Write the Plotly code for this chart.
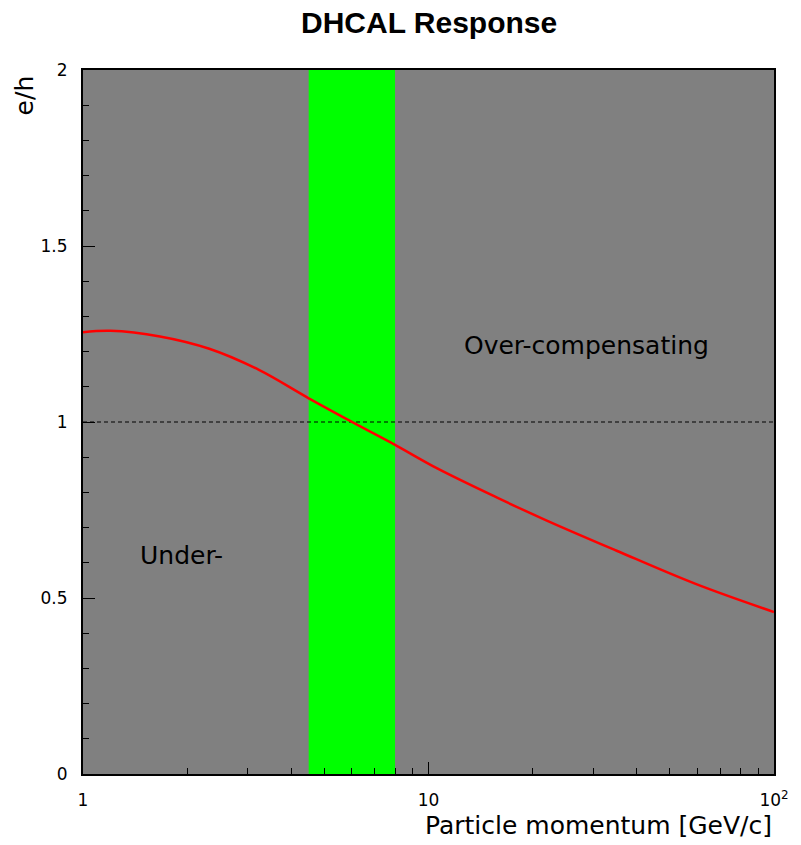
import plotly.graph_objects as go

# Data
momentum = [1.0, 1.2, 1.67, 2.32, 3.23, 4.49, 6.25, 8.0, 10.6, 15.8, 22.0, 34.9, 59.3, 100.0]
eh_ratio = [1.255, 1.259, 1.243, 1.208, 1.148, 1.068, 0.991, 0.935, 0.868, 0.785, 0.72, 0.635, 0.54, 0.46]
band_p = [4.5, 8.0]          # highlighted momentum band
ref_x = [1, 100]
ref_y = [1, 1]               # e/h = 1 reference
y_ticks = [0, 0.5, 1, 1.5, 2]
y_tick_text = ["0", "0.5", "1", "1.5", "2"]
x_ticks = [1, 10, 100]
x_tick_text = ["1", "10", "10<sup>2</sup>"]

fig = go.Figure()

fig.add_trace(go.Scatter(
    x=[band_p[0], band_p[1], band_p[1], band_p[0], band_p[0]],
    y=[0, 0, 2, 2, 0],
    fill="toself", fillcolor="#00ff00", mode="none",
    hoverinfo="skip", showlegend=False))

fig.add_trace(go.Scatter(
    x=ref_x, y=ref_y, mode="lines",
    line=dict(color="black", width=1.2, dash="4px,3px"),
    showlegend=False))

fig.add_trace(go.Scatter(
    x=momentum, y=eh_ratio, mode="lines",
    line=dict(color="#ff0000", width=2.5, shape="spline", smoothing=1.0),
    showlegend=False))

txtfont = dict(family="DejaVu Sans", size=25, color="black")

fig.update_layout(
    width=801, height=845,
    margin=dict(l=83, r=22, t=70, b=71),
    paper_bgcolor="white",
    plot_bgcolor="#808080",
    showlegend=False,
    xaxis=dict(
        type="log", range=[0, 2],
        tickmode="array", tickvals=x_ticks, ticktext=x_tick_text,
        ticks="inside", ticklen=12, tickwidth=1, tickcolor="black",
        minor=dict(tickmode="array", tickvals=[2,3,4,5,6,7,8,9,20,30,40,50,60,70,80,90],
                   ticks="inside", ticklen=6, tickwidth=1, tickcolor="black", showgrid=False),
        showgrid=False, zeroline=False,
        showline=True, linecolor="black", linewidth=2, mirror=True,
        tickfont=dict(family="DejaVu Sans", size=17, color="black"),
        ticklabelstandoff=10,
    ),
    yaxis=dict(
        range=[0, 2],
        tickmode="array", tickvals=y_ticks, ticktext=y_tick_text,
        ticks="inside", ticklen=12, tickwidth=1, tickcolor="black",
        minor=dict(dtick=0.1, ticks="inside", ticklen=6, tickwidth=1, tickcolor="black", showgrid=False),
        showgrid=False, zeroline=False,
        showline=True, linecolor="black", linewidth=2, mirror=True,
        tickfont=dict(family="DejaVu Sans", size=17, color="black"),
        ticklabelstandoff=10,
    ),
    annotations=[
        dict(text="<b>DHCAL Response</b>", xref="paper", yref="paper",
             x=0.5, y=(774 - 22) / 704, xanchor="center", yanchor="middle",
             showarrow=False,
             font=dict(family="Liberation Sans", size=30, color="black")),
        dict(text="Particle momentum [GeV/c]", xref="paper", yref="paper",
             x=1.0, y=(774 - 825) / 704, xanchor="right", yanchor="middle",
             showarrow=False, font=txtfont),
        dict(text="e/h", xref="paper", yref="paper",
             x=(24 - 83) / 696, y=(774 - 73) / 704, xanchor="center", yanchor="top",
             textangle=-90, showarrow=False, font=txtfont),
        dict(text="Over-compensating", xref="paper", yref="paper",
             x=(590 - 83) / 696, y=(774 - 345) / 704, xanchor="center", yanchor="middle",
             showarrow=False, font=txtfont),
        dict(text="Under-", xref="paper", yref="paper",
             x=(182 - 83) / 696, y=(774 - 555) / 704, xanchor="center", yanchor="middle",
             showarrow=False, font=txtfont),
    ],
)

fig.write_html("out.html",
               config={"displayModeBar": False},
               post_script="document.body.style.margin='0';document.body.style.overflow='hidden';")
